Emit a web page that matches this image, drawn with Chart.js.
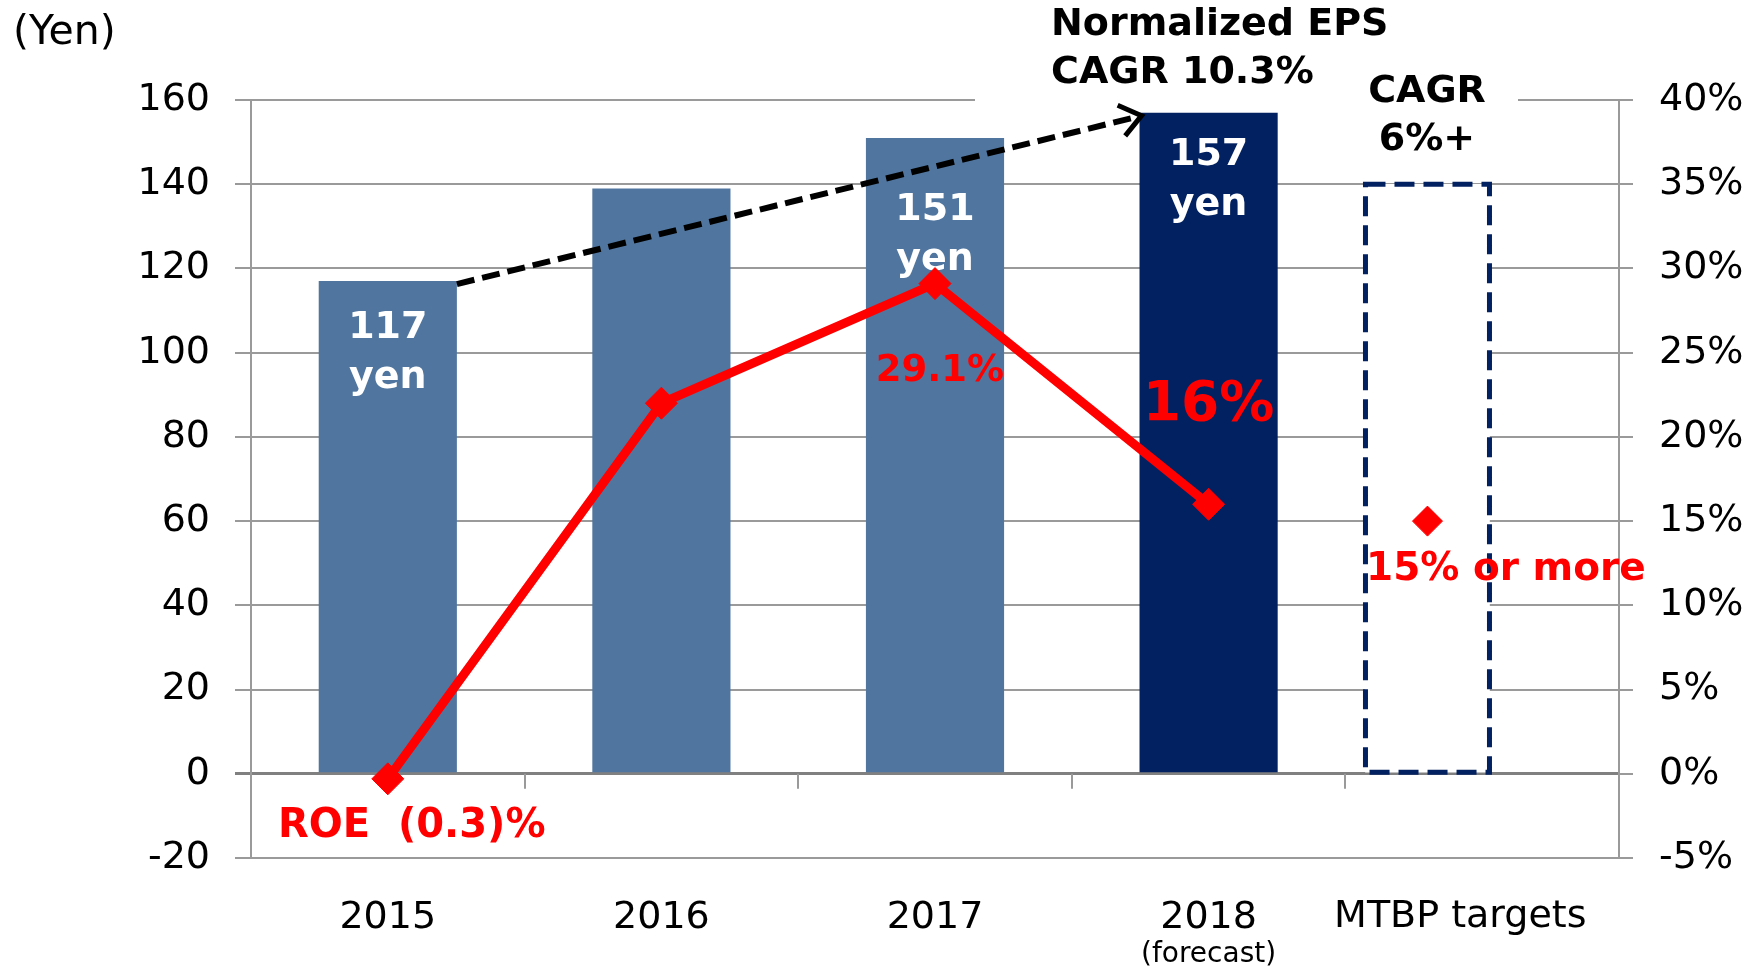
<!DOCTYPE html>
<html lang="en">
<head>
<meta charset="UTF-8">
<title>Normalized EPS and ROE</title>
<style>
    html, body {
        margin: 0;
        padding: 0;
        background: #fff;
    }
    .wrap {
        width: 1758px;
        height: 970px;
        position: relative;
    }
</style>
</head>
<body>
<div class="wrap"><canvas id="epsChart"></canvas></div>

<script src="https://cdn.jsdelivr.net/npm/chart.js"></script>
<script>
    // chart data
    const categories = ['2015', '2016', '2017', '2018', 'MTBP targets'];
    const epsValues = [117, 139, 151, 157, null];
    const epsLabels = ['117', null, '151', '157', null];
    const roeValues = [-0.3, 22.0, 29.1, 16.0, null];
    const targetX = 4.3;       // the target box sits a little left of the MTBP slot
    const targetEps = 140;
    const targetRoe = 15;

    const FONT = "'DejaVu Sans', Verdana, sans-serif";
    const BLUE = '#50769f';
    const NAVY = '#022160';
    const RED = '#ff0000';
    const GRID = '#9a9a9a';

    function drawText(ctx, str, x, y, size, color, bold, align) {
        ctx.save();
        ctx.font = (bold ? 'bold ' : '') + size + 'px ' + FONT;
        ctx.fillStyle = color;
        ctx.textAlign = align || 'center';
        ctx.textBaseline = 'middle';
        ctx.fillText(str, x, y);
        ctx.restore();
    }

    const decor = {
        id: 'decor',
        beforeDatasetsDraw(chart) {
            const ctx = chart.ctx;
            const xt = chart.scales.xt;
            const y = chart.scales.y;
            const y0 = y.getPixelForValue(0);

            // text boxes hide the top gridline
            ctx.save();
            ctx.fillStyle = '#fff';
            ctx.fillRect(975, 0, 420, y.getPixelForValue(160) + 5);
            ctx.fillRect(1355, 60, 163, 100);

            // category tick marks hang from the zero line
            ctx.strokeStyle = GRID;
            ctx.lineWidth = 2;
            for (let i = 1; i < categories.length; i++) {
                const px = Math.round(xt.getPixelForValue(i));
                ctx.beginPath();
                ctx.moveTo(px, y0);
                ctx.lineTo(px, y0 + 15);
                ctx.stroke();
            }
            ctx.restore();
        },
        afterDatasetDraw(chart, args) {
            const ctx = chart.ctx;
            const meta = args.meta;
            if (args.index === 0) {
                const offs = [47, null, 72, 42];
                meta.data.forEach((bar, i) => {
                    if (!epsLabels[i]) return;
                    drawText(ctx, epsLabels[i], bar.x, bar.y + offs[i], 38, '#fff', true);
                    drawText(ctx, 'yen', bar.x, bar.y + offs[i] + 50, 38, '#fff', true);
                });

                // dashed CAGR arrow from 2015 bar to 2018 bar
                const a = meta.data[0], b = meta.data[3];
                const x1 = a.x + a.width / 2, y1 = a.y + 3;
                const x2 = b.x - b.width / 2 + 2, y2 = b.y + 3;
                ctx.save();
                ctx.strokeStyle = '#000';
                ctx.lineWidth = 6;
                ctx.setLineDash([18, 8]);
                ctx.beginPath();
                ctx.moveTo(x1, y1);
                ctx.lineTo(x2 - 6, y2 + 1.5);
                ctx.stroke();
                ctx.setLineDash([]);
                ctx.lineWidth = 5;
                ctx.lineJoin = 'miter';
                const ang = Math.atan2(y2 - y1, x2 - x1);
                const len = 26;
                ctx.beginPath();
                ctx.moveTo(x2 - len * Math.cos(ang - 0.65), y2 - len * Math.sin(ang - 0.65));
                ctx.lineTo(x2, y2);
                ctx.lineTo(x2 - len * Math.cos(ang + 0.65), y2 - len * Math.sin(ang + 0.65));
                ctx.stroke();
                ctx.restore();
            }
            if (args.index === 1) {
                // dashed outline for the target box
                const bar = meta.data[0];
                const p = bar.getProps(['x', 'y', 'base', 'width'], true);
                ctx.save();
                ctx.strokeStyle = NAVY;
                ctx.lineWidth = 5;
                ctx.setLineDash([20, 9]);
                ctx.strokeRect(p.x - p.width / 2, p.y, p.width, p.base - p.y);
                ctx.restore();
            }
        },
        afterDraw(chart) {
            const ctx = chart.ctx;
            const x = chart.scales.x;
            const xt = chart.scales.xt;
            drawText(ctx, '(Yen)', 13, 33, 41, '#000', false, 'left');
            drawText(ctx, 'Normalized EPS', 1051, 25, 38, '#000', true, 'left');
            drawText(ctx, 'CAGR 10.3%', 1051, 73, 38, '#000', true, 'left');
            drawText(ctx, 'CAGR', 1427, 92, 38, '#000', true);
            drawText(ctx, '6%+', 1427, 140, 38, '#000', true);
            drawText(ctx, 'ROE  (0.3)%', 278, 827, 40, RED, true, 'left');
            drawText(ctx, '29.1%', 940, 371, 37, RED, true);
            drawText(ctx, '16%', x.getPixelForValue(3), 406, 55, RED, true);
            drawText(ctx, '15% or more', 1366, 570, 39, RED, true, 'left');
            drawText(ctx, '(forecast)', x.getPixelForValue(3), 955, 28, '#000', false);
            // MTBP label sits left of its slot, like the target box
            const lastTick = x.ticks.length - 1;
            drawText(ctx, categories[lastTick], xt.getPixelForValue(4.42), 917, 38, '#000', false);
        }
    };

    const ctx = document.getElementById('epsChart').getContext('2d');
    const chart = new Chart(ctx, {
        data: {
            labels: categories,
            datasets: [{
                type: 'bar',
                data: epsValues,
                backgroundColor: [BLUE, BLUE, BLUE, NAVY, BLUE],
                barPercentage: 0.505,
                categoryPercentage: 1,
                grouped: false,
                xAxisID: 'x',
                yAxisID: 'y',
                order: 3
            }, {
                type: 'bar',
                data: [{ x: targetX, y: targetEps }],
                backgroundColor: '#fff',
                borderWidth: 0,
                barThickness: 124,
                grouped: false,
                xAxisID: 'xt',
                yAxisID: 'y',
                order: 3
            }, {
                type: 'line',
                data: roeValues,
                borderColor: RED,
                borderWidth: 9,
                pointStyle: 'rectRot',
                pointRadius: 16,
                pointBackgroundColor: RED,
                pointBorderColor: RED,
                pointBorderWidth: 1,
                tension: 0,
                xAxisID: 'x',
                yAxisID: 'y1',
                order: 1
            }, {
                type: 'line',
                data: [{ x: targetX, y: targetRoe }],
                showLine: false,
                pointStyle: 'rectRot',
                pointRadius: 15,
                pointBackgroundColor: RED,
                pointBorderColor: RED,
                xAxisID: 'xt',
                yAxisID: 'y1',
                order: 1
            }]
        },
        options: {
            responsive: true,
            maintainAspectRatio: false,
            animation: false,
            events: [],
            layout: { padding: { top: 100, left: 0, right: 0, bottom: 0 } },
            plugins: {
                legend: { display: false },
                tooltip: { enabled: false }
            },
            scales: {
                x: {
                    type: 'category',
                    offset: true,
                    grid: { display: false },
                    border: { display: false },
                    ticks: {
                        color: '#000',
                        font: { family: FONT, size: 38 },
                        padding: 29,
                        maxRotation: 0,
                        autoSkip: false,
                        // last label is drawn by the plugin, shifted left
                        callback: (v, i) => i === categories.length - 1 ? '' : categories[i]
                    },
                    afterFit(scale) { scale.height = 112; }
                },
                xt: {
                    type: 'linear',
                    display: false,
                    offset: false,
                    min: 0,
                    max: 5
                },
                y: {
                    position: 'left',
                    min: -20,
                    max: 160,
                    ticks: {
                        stepSize: 20,
                        padding: 25,
                        color: '#000',
                        font: { family: FONT, size: 38 }
                    },
                    grid: {
                        color: c => c.tick && c.tick.value === 0 ? '#808080' : GRID,
                        lineWidth: c => c.tick && c.tick.value === 0 ? 3 : 2,
                        tickLength: 16
                    },
                    border: { color: GRID, width: 2 },
                    afterFit(scale) { scale.width = 251; }
                },
                y1: {
                    position: 'right',
                    min: -5,
                    max: 40,
                    ticks: {
                        stepSize: 5,
                        padding: 26,
                        color: '#000',
                        font: { family: FONT, size: 38 },
                        callback: v => v + '%'
                    },
                    grid: {
                        drawOnChartArea: false,
                        color: GRID,
                        lineWidth: 2,
                        tickLength: 14
                    },
                    border: { color: GRID, width: 2 },
                    afterFit(scale) { scale.width = 139; }
                }
            }
        },
        plugins: [decor]
    });
</script>
</body>
</html>
